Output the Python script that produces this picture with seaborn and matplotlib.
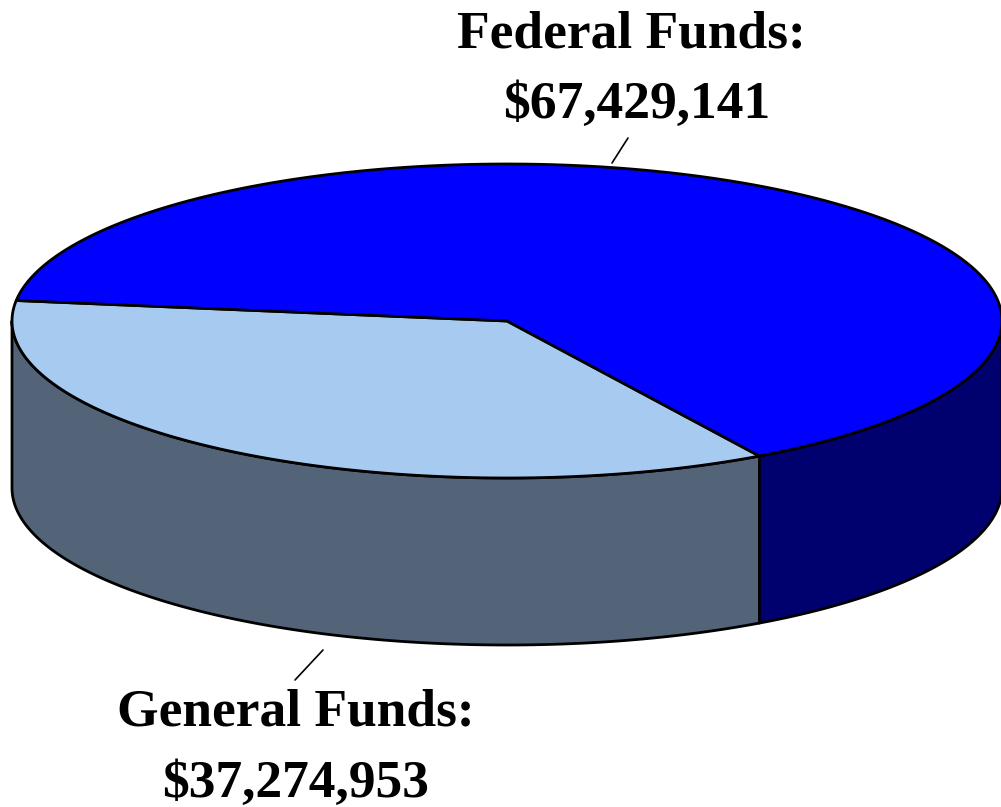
import numpy as np
import matplotlib
matplotlib.use("Agg")
import matplotlib.pyplot as plt
from matplotlib.patches import Polygon
import seaborn as sns

sns.set_theme(style="white")
plt.rcParams['font.family'] = ['Liberation Serif', 'DejaVu Serif']

# ---- data ----
categories = ["General Funds", "Federal Funds"]
values = [37274953, 67429141]
label_titles = ["General Funds:", "Federal Funds:"]
label_values = ["$37,274,953", "$67,429,141"]
top_colors = ["#A6CAF0", "#0000FF"]
side_colors = ["#536478", "#00006E"]

# ---- geometry (pixel space) ----
W, H = 1001, 807
cx, cy = 507, 321
ra, rb = 495, 157
depth = 167
start_angle = 172.5

fig = plt.figure(figsize=(W / 100, H / 100), dpi=100)
ax = fig.add_axes([0, 0, 1, 1])
ax.set_xlim(0, W)
ax.set_ylim(H, 0)
ax.axis("off")

total = float(sum(values))
fracs = [v / total for v in values]
bounds = []
a0 = start_angle
for f in fracs:
    a1 = a0 + 360 * f
    bounds.append((a0, a1))
    a0 = a1


def pt(t_deg, dz=0.0):
    t = np.radians(t_deg)
    return cx + ra * np.cos(t), cy - rb * np.sin(t) + dz


lw = 2.0
# side walls (visible front half: 180..360)
for (t0, t1), sc in zip(bounds, side_colors):
    for shift in (-360, 0, 360):
        lo = max(t0 + shift, 180)
        hi = min(t1 + shift, 360)
        if hi > lo:
            ts = np.linspace(lo, hi, 200)
            xs, ys = pt(ts)
            xb, yb = pt(ts[::-1], depth)
            poly = np.column_stack([np.concatenate([xs, xb]),
                                    np.concatenate([ys, yb])])
            ax.add_patch(Polygon(poly, closed=True, facecolor=sc,
                                 edgecolor="black", lw=lw, joinstyle="round"))

# top faces
for (t0, t1), tc in zip(bounds, top_colors):
    ts = np.linspace(t0, t1, 400)
    xs, ys = pt(ts)
    poly = np.column_stack([np.concatenate([[cx], xs]),
                            np.concatenate([[cy], ys])])
    ax.add_patch(Polygon(poly, closed=True, facecolor=tc,
                         edgecolor="black", lw=lw, joinstyle="round"))

# labels
fs = 38.5
txt = dict(fontsize=fs, fontweight="bold", color="black", ha="center",
           va="baseline")
# Federal
ax.text(631, 47, label_titles[1], **txt)
ax.text(637, 118, label_values[1], **txt)
ax.plot([612, 628], [163, 138], color="black", lw=1.2)
# General
ax.text(296, 725, label_titles[0], **txt)
ax.text(296, 797, label_values[0], **txt)
ax.plot([295, 323], [680, 650], color="black", lw=1.2)

fig.savefig("out.png", dpi=100)
